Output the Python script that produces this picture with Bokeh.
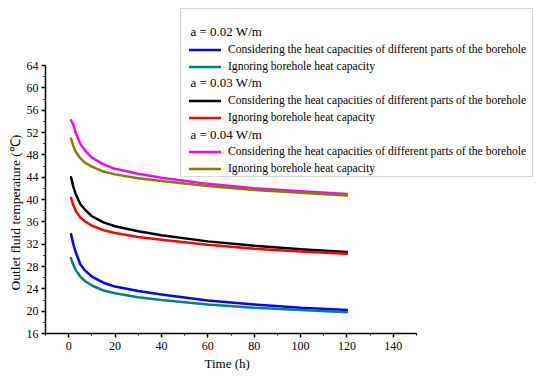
from bokeh.plotting import figure
from bokeh.models import Range1d, FixedTicker, Legend, LegendItem, BoxAnnotation, Label, Title
from bokeh.core.properties import value
from bokeh.embed import file_html
from bokeh.resources import INLINE

# ---- data ----
time_h = [1, 2, 3, 5, 7, 10, 15, 20, 30, 40, 60, 80, 100, 120]
a002_considering = [33.8, 32.0, 30.6, 28.4, 27.3, 26.2, 25.1, 24.4, 23.6, 23.0, 21.9, 21.2, 20.6, 20.2]
a002_ignoring = [29.5, 28.3, 27.4, 26.2, 25.4, 24.6, 23.7, 23.2, 22.5, 22.0, 21.2, 20.6, 20.2, 19.8]
a003_considering = [44.0, 42.3, 41.0, 39.2, 38.2, 37.0, 35.9, 35.2, 34.3, 33.6, 32.5, 31.7, 31.1, 30.6]
a003_ignoring = [40.3, 39.0, 38.0, 36.8, 36.1, 35.3, 34.5, 34.0, 33.3, 32.8, 31.9, 31.2, 30.7, 30.3]
a004_considering = [54.2, 53.4, 52.0, 50.0, 48.8, 47.5, 46.3, 45.5, 44.6, 43.9, 42.8, 42.0, 41.5, 41.0]
a004_ignoring = [50.9, 49.6, 48.6, 47.4, 46.6, 45.9, 45.0, 44.5, 43.8, 43.3, 42.4, 41.7, 41.2, 40.7]

group_labels = ["a = 0.02 W/m", "a = 0.03 W/m", "a = 0.04 W/m"]
label_considering = "Considering the heat capacities of different parts of the borehole"
label_ignoring = "Ignoring borehole heat capacity"
x_title = "Time (h)"
y_title = "Outlet fluid temperature (℃)"
x_ticks = [0, 20, 40, 60, 80, 100, 120, 140]
x_minor = [-10, 10, 30, 50, 70, 90, 110, 130, 150]
y_ticks = [16, 20, 24, 28, 32, 36, 40, 44, 48, 52, 56, 60, 64]
y_minor = [18, 22, 26, 30, 34, 38, 42, 46, 50, 54, 58, 62]
x_axis_span = (-10, 150)
y_axis_span = (16, 64)

FONT = "Liberation Serif"

# frame is extended to the right / top so the legend box (which overhangs the axes) is not clipped;
# the axes themselves are limited to their spans with `bounds`.
X_PX = 371.0   # pixels covered by the x axis span
Y_PX = 268.0   # pixels covered by the y axis span
FRAME_W = 500
FRAME_H = 328
x_end = x_axis_span[0] + FRAME_W * (x_axis_span[1] - x_axis_span[0]) / X_PX
y_end = y_axis_span[0] + FRAME_H * (y_axis_span[1] - y_axis_span[0]) / Y_PX

p = figure(width=550, height=376,
           x_range=Range1d(x_axis_span[0], x_end), y_range=Range1d(y_axis_span[0], y_end),
           output_backend="svg", toolbar_location=None,
           min_border_left=45, min_border_right=5, min_border_top=5, min_border_bottom=43)
p.outline_line_color = None
p.xgrid.visible = False
p.ygrid.visible = False
p.background_fill_color = "white"
p.border_fill_color = "white"

for ax in (p.xaxis[0], p.yaxis[0]):
    ax.axis_line_color = "black"
    ax.axis_line_width = 1.5
    ax.major_tick_line_color = "black"
    ax.major_tick_line_width = 1.5
    ax.minor_tick_line_color = "black"
    ax.minor_tick_line_width = 1.2
    ax.major_tick_in = 0
    ax.major_tick_out = 4
    ax.minor_tick_in = 0
    ax.minor_tick_out = 2
    ax.major_label_text_font = FONT
    ax.major_label_text_font_size = "12px"
    ax.major_label_text_color = "black"
    ax.major_label_standoff = 3

p.xaxis.ticker = FixedTicker(ticks=x_ticks, minor_ticks=x_minor)
p.yaxis.ticker = FixedTicker(ticks=y_ticks, minor_ticks=y_minor)
p.xaxis.bounds = x_axis_span
p.yaxis.bounds = y_axis_span
p.xaxis.major_label_standoff = 4

# axis titles as panel titles so they can be centred on the axis spans
p.add_layout(Title(text=y_title, align="left", offset=43, standoff=2,
                   text_font=FONT, text_font_size="13.5px", text_font_style="normal",
                   text_color="black"), "left")
p.add_layout(Title(text=x_title, align="left", offset=159, standoff=2,
                   text_font=FONT, text_font_size="13px", text_font_style="normal",
                   text_color="black"), "below")

series = [
    (a002_considering, "#0000FF"),
    (a002_ignoring, "#008080"),
    (a003_considering, "#000000"),
    (a003_ignoring, "#FF0000"),
    (a004_considering, "#FF00FF"),
    (a004_ignoring, "#808000"),
]
renderers = []
for vals, col in series:
    r = p.line(time_h, vals, line_color=col, line_width=2.5, line_join="round", line_cap="round")
    renderers.append(r)

dummy = p.line(x=[], y=[], line_alpha=0)

items = []
for g in range(3):
    items.append(LegendItem(label=value(""), renderers=[dummy]))
    items.append(LegendItem(label=value(label_considering), renderers=[renderers[2 * g]]))
    items.append(LegendItem(label=value(label_ignoring), renderers=[renderers[2 * g + 1]]))

box = BoxAnnotation(left=135, right=487, bottom=157, top=325,
                    left_units="screen", right_units="screen", top_units="screen", bottom_units="screen",
                    fill_color="white", fill_alpha=1.0, line_color="#7f7f7f", line_width=1.2)
p.add_layout(box)

legend = Legend(items=items, location=(144, 157), padding=0, spacing=2, margin=0,
                glyph_width=32, glyph_height=15, label_height=15, label_standoff=7,
                label_text_font=FONT, label_text_font_size="11.6px", label_text_color="black",
                border_line_alpha=0, background_fill_alpha=0)
p.add_layout(legend)

header_y = [302, 251, 199]
for txt, yy in zip(group_labels, header_y):
    p.add_layout(Label(x=145, y=yy, x_units="screen", y_units="screen", text=txt,
                       text_font=FONT, text_font_size="13px", text_baseline="middle",
                       text_align="left", text_color="black"))

open("out.html", "w").write(file_html(p, INLINE))
